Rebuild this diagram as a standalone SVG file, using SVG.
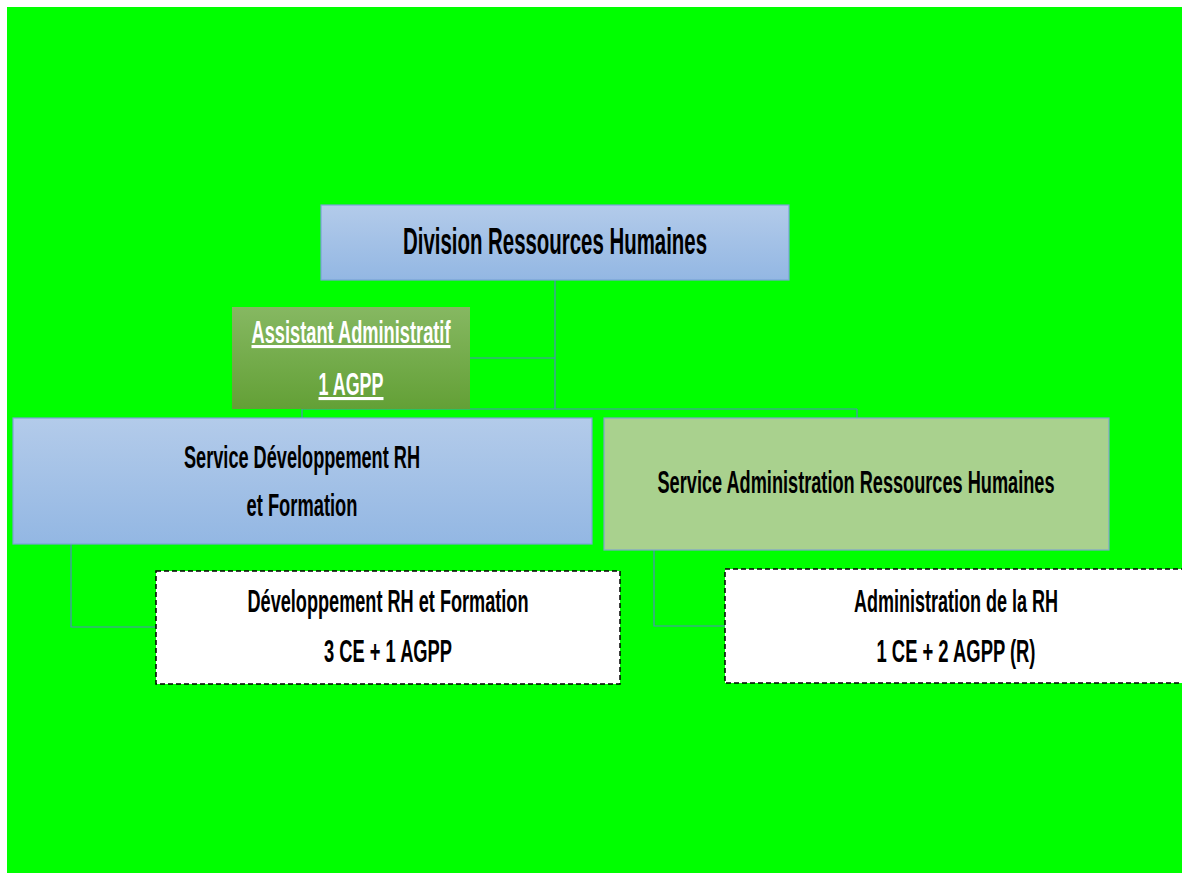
<svg xmlns="http://www.w3.org/2000/svg" width="1182" height="875" viewBox="0 0 1182 875">
  <defs>
    <linearGradient id="blueFill" x1="0" y1="0" x2="0" y2="1">
      <stop offset="0" stop-color="#b3cbea"/>
      <stop offset="1" stop-color="#93b7e3"/>
    </linearGradient>
    <linearGradient id="olive" x1="0" y1="0" x2="0" y2="1">
      <stop offset="0" stop-color="#86b862"/>
      <stop offset="1" stop-color="#63a036"/>
    </linearGradient>
  </defs>
  <style>
    .lbl { font-family: "Liberation Sans Narrow", "Liberation Sans", Arial, sans-serif; font-weight: bold; text-anchor: middle; fill: #000; }
    .wht { fill: #fff; text-decoration: underline; }
    .blue { fill: url(#blueFill); stroke: #78a4d6; stroke-width: 1.2; }
    .sage { fill: #a9d18e; stroke: #7fa6cc; stroke-width: 1.2; }
    .dash { fill: #fff; stroke: #000; stroke-width: 1.5; stroke-dasharray: 5 3; }
    .link { fill: none; stroke: #4f8cbc; stroke-width: 1.2; }
  </style>

  <!-- page background -->
  <rect x="0" y="0" width="1182" height="875" fill="#fff"/>
  <rect x="7" y="7" width="1175" height="866" fill="#00ff00"/>

  <!-- connectors -->
  <g id="connectors">
    <path class="link" d="M555 280 V409"/>
    <path class="link" d="M470 358 H555"/>
    <path class="link" d="M302 409 H857"/>
    <path class="link" d="M302 409 V418"/>
    <path class="link" d="M857 409 V418"/>
    <path class="link" d="M71 544 V627 H156"/>
    <path class="link" d="M654 550 V626 H725"/>
  </g>

  <g id="division">
    <rect class="blue" x="321" y="205" width="468" height="75"/>
    <text class="lbl" x="555" y="254" font-size="36" textLength="304" lengthAdjust="spacingAndGlyphs">Division Ressources Humaines</text>
  </g>

  <g id="assistant">
    <rect x="232" y="307" width="238" height="102" fill="url(#olive)"/>
    <text class="lbl wht" x="351" y="343" font-size="31" textLength="199" lengthAdjust="spacingAndGlyphs">Assistant Administratif</text>
    <text class="lbl wht" x="351" y="395" font-size="31" textLength="65" lengthAdjust="spacingAndGlyphs">1 AGPP</text>
  </g>

  <g id="service-dev">
    <rect class="blue" x="13" y="418" width="579" height="126"/>
    <text class="lbl" x="302" y="468" font-size="31" textLength="236" lengthAdjust="spacingAndGlyphs">Service Développement RH</text>
    <text class="lbl" x="302" y="516" font-size="31" textLength="111" lengthAdjust="spacingAndGlyphs">et Formation</text>
  </g>

  <g id="service-admin">
    <rect class="sage" x="604" y="418" width="505" height="132"/>
    <text class="lbl" x="856" y="493" font-size="32" textLength="397" lengthAdjust="spacingAndGlyphs">Service Administration Ressources Humaines</text>
  </g>

  <g id="unit-dev">
    <rect class="dash" x="156" y="571" width="464" height="113"/>
    <text class="lbl" x="388" y="612" font-size="31" textLength="281" lengthAdjust="spacingAndGlyphs">Développement RH et Formation</text>
    <text class="lbl" x="388" y="662" font-size="31" textLength="128" lengthAdjust="spacingAndGlyphs">3 CE + 1 AGPP</text>
  </g>

  <g id="unit-admin">
    <rect class="dash" x="725" y="569" width="462" height="114"/>
    <text class="lbl" x="956" y="612" font-size="31" textLength="204" lengthAdjust="spacingAndGlyphs">Administration de la RH</text>
    <text class="lbl" x="956" y="662" font-size="31" textLength="159" lengthAdjust="spacingAndGlyphs">1 CE + 2 AGPP (R)</text>
  </g>
</svg>
